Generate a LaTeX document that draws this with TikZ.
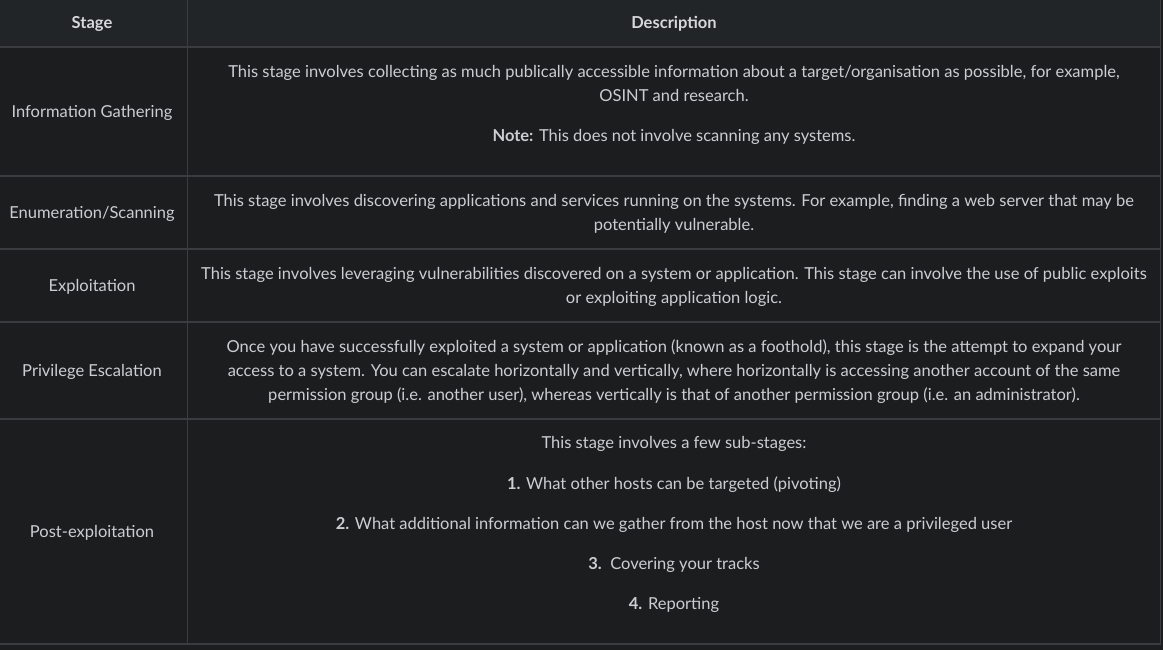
\documentclass[tikz,border=0pt]{standalone}
\usepackage{fontspec}
\setmainfont{Lato}
\definecolor{bodybg}{HTML}{1C1D1F}
\definecolor{headbg}{HTML}{222528}
\definecolor{gridc}{HTML}{3A3C3F}
\definecolor{fg}{HTML}{CBCED1}
\definecolor{hfg}{HTML}{D6D8DA}
\begin{document}
\begin{tikzpicture}[x=1pt,y=-1pt,
  txt/.style={text=fg, font=\fontsize{16.5}{19}\selectfont, inner sep=0pt, anchor=base},
  hd/.style={text=hfg, font=\fontsize{16.5}{19}\selectfont\bfseries, inner sep=0pt, anchor=base},
  gridline/.style={draw=gridc, line width=1.3pt}]
\useasboundingbox (0,0) rectangle (1163,650);
\fill[bodybg] (0,0) rectangle (1163,650);
\fill[headbg] (0,0) rectangle (1160,47);
% grid coordinates
\coordinate (cM) at (187.5,0);
\coordinate (cR) at (1160.5,0);
\draw[gridline] (cM) -- (187.5,644);
\draw[gridline] (cR) -- (1160.5,644);
\foreach \y in {47,176,249,322,419,644} \draw[gridline] (0,\y) -- (1160.5,\y);
% header
\node[hd] (hStage) at (92,28.5) {Stage};
\node[hd] (hDesc) at (674,28.5) {Description};
% row 1
\node[txt] (s1) at (92,117.5) {Information Gathering};
\node[txt] (d1a) at (674,77.5) {This stage involves collecting as much publically accessible information about a target/organisation as possible, for example,};
\node[txt] (d1b) at (674,101.5) {OSINT and research.};
\node[txt] (d1c) at (674,141.5) {\textbf{Note:} This does not involve scanning any systems.};
% row 2
\node[txt] (s2) at (92,218.5) {Enumeration/Scanning};
\node[txt] (d2a) at (674,206.5) {This stage involves discovering applications and services running on the systems. For example, finding a web server that may be};
\node[txt] (d2b) at (674,230.5) {potentially vulnerable.};
% row 3
\node[txt] (s3) at (92,291.5) {Exploitation};
\node[txt] (d3a) at (674,279.5) {This stage involves leveraging vulnerabilities discovered on a system or application. This stage can involve the use of public exploits};
\node[txt] (d3b) at (674,303.5) {or exploiting application logic.};
% row 4
\node[txt] (s4) at (92,376.5) {Privilege Escalation};
\node[txt] (d4a) at (674,352.5) {Once you have successfully exploited a system or application (known as a foothold), this stage is the attempt to expand your};
\node[txt] (d4b) at (674,376.5) {access to a system. You can escalate horizontally and vertically, where horizontally is accessing another account of the same};
\node[txt] (d4c) at (674,400.5) {permission group (i.e. another user), whereas vertically is that of another permission group (i.e. an administrator).};
% row 5
\node[txt] (s5) at (92,537.5) {Post-exploitation};
\node[txt] (d5a) at (674,448.5) {This stage involves a few sub-stages:};
\node[txt] (d5b) at (674,489.5) {\textbf{1.} What other hosts can be targeted (pivoting)};
\node[txt] (d5c) at (674,529.5) {\textbf{2.} What additional information can we gather from the host now that we are a privileged user};
\node[txt] (d5d) at (674,569.5) {\textbf{3.}\ \ Covering your tracks};
\node[txt] (d5e) at (674,609.5) {\textbf{4.} Reporting};
\end{tikzpicture}
\end{document}
